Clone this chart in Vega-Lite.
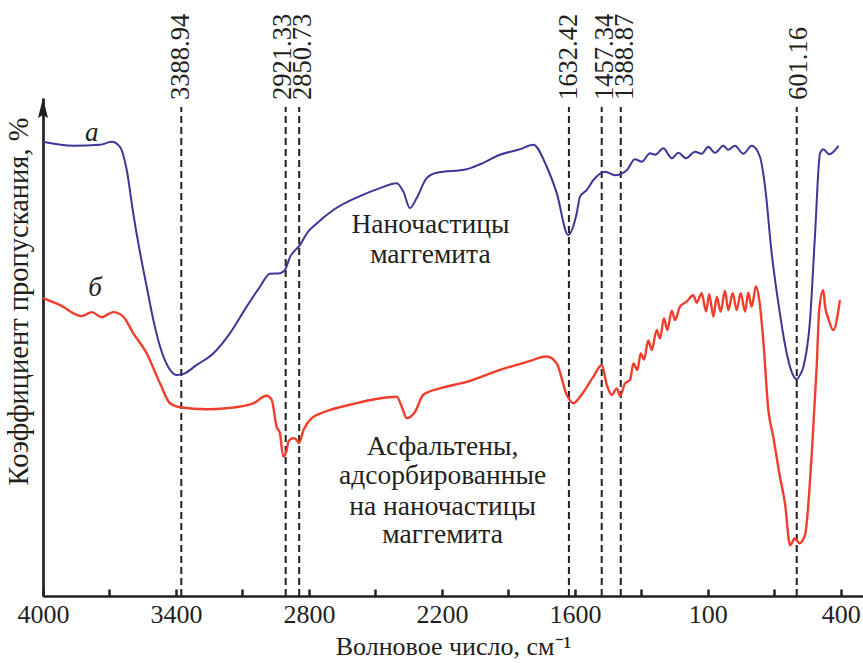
{
  "$schema": "https://vega.github.io/schema/vega-lite/v6.json",
  "width": 820,
  "height": 498,
  "autosize": "none",
  "padding": {"left": 43, "top": 98, "right": 0, "bottom": 67},
  "background": "white",
  "config": {"view": {"stroke": null}, "font": "Liberation Serif"},
  "datasets": {
    "blue": [
      {"wn": 4000, "t": 91.2}, {"wn": 3863, "t": 90.4}, {"wn": 3743, "t": 90.6}, {"wn": 3690, "t": 91.2},
      {"wn": 3653, "t": 90.2}, {"wn": 3622, "t": 85.5}, {"wn": 3593, "t": 76.9}, {"wn": 3562, "t": 68.9},
      {"wn": 3532, "t": 62.1}, {"wn": 3502, "t": 55.4}, {"wn": 3472, "t": 50.1}, {"wn": 3435, "t": 46.0},
      {"wn": 3397, "t": 44.4}, {"wn": 3367, "t": 44.6}, {"wn": 3306, "t": 46.4}, {"wn": 3232, "t": 48.7},
      {"wn": 3156, "t": 52.8}, {"wn": 3081, "t": 58.1}, {"wn": 3021, "t": 62.1}, {"wn": 2976, "t": 64.7},
      {"wn": 2931, "t": 64.8}, {"wn": 2908, "t": 65.5}, {"wn": 2885, "t": 68.1}, {"wn": 2840, "t": 70.5},
      {"wn": 2810, "t": 72.8}, {"wn": 2765, "t": 74.8}, {"wn": 2690, "t": 77.5}, {"wn": 2570, "t": 80.3},
      {"wn": 2479, "t": 81.9}, {"wn": 2404, "t": 82.9}, {"wn": 2374, "t": 81.2}, {"wn": 2344, "t": 77.9},
      {"wn": 2314, "t": 79.9}, {"wn": 2269, "t": 83.9}, {"wn": 2224, "t": 85.0}, {"wn": 2088, "t": 85.7},
      {"wn": 2028, "t": 86.7}, {"wn": 1938, "t": 88.6}, {"wn": 1848, "t": 89.7}, {"wn": 1788, "t": 90.6},
      {"wn": 1727, "t": 86.2}, {"wn": 1682, "t": 80.9}, {"wn": 1630, "t": 72.5}, {"wn": 1592, "t": 76.8},
      {"wn": 1577, "t": 80.2}, {"wn": 1547, "t": 81.5}, {"wn": 1517, "t": 83.5}, {"wn": 1464, "t": 85.2},
      {"wn": 1419, "t": 84.5}, {"wn": 1366, "t": 85.5}, {"wn": 1329, "t": 87.7}, {"wn": 1298, "t": 87.2},
      {"wn": 1261, "t": 88.9}, {"wn": 1238, "t": 88.6}, {"wn": 1201, "t": 89.9}, {"wn": 1163, "t": 87.9},
      {"wn": 1133, "t": 89.0}, {"wn": 1099, "t": 87.9}, {"wn": 1058, "t": 89.2}, {"wn": 1028, "t": 88.8},
      {"wn": 998, "t": 90.2}, {"wn": 968, "t": 89.0}, {"wn": 930, "t": 90.4}, {"wn": 908, "t": 89.6},
      {"wn": 878, "t": 90.4}, {"wn": 840, "t": 88.8}, {"wn": 802, "t": 90.4}, {"wn": 765, "t": 88.2},
      {"wn": 742, "t": 82.2}, {"wn": 712, "t": 68.8}, {"wn": 682, "t": 58.8}, {"wn": 644, "t": 48.7},
      {"wn": 625, "t": 45.4}, {"wn": 599, "t": 43.5}, {"wn": 584, "t": 44.4}, {"wn": 569, "t": 46.0},
      {"wn": 539, "t": 55.4}, {"wn": 517, "t": 72.1}, {"wn": 494, "t": 88.9}, {"wn": 479, "t": 89.7},
      {"wn": 452, "t": 88.7}, {"wn": 411, "t": 90.4}
    ],
    "red": [
      {"wn": 4000, "t": 59.8}, {"wn": 3923, "t": 58.4}, {"wn": 3825, "t": 56.2}, {"wn": 3780, "t": 57.0},
      {"wn": 3735, "t": 56.0}, {"wn": 3683, "t": 57.0}, {"wn": 3638, "t": 56.1}, {"wn": 3593, "t": 52.8},
      {"wn": 3532, "t": 48.7}, {"wn": 3472, "t": 42.7}, {"wn": 3427, "t": 38.7}, {"wn": 3382, "t": 37.9},
      {"wn": 3261, "t": 37.5}, {"wn": 3171, "t": 37.7}, {"wn": 3051, "t": 38.7}, {"wn": 2991, "t": 40.2},
      {"wn": 2968, "t": 39.4}, {"wn": 2946, "t": 34.0}, {"wn": 2931, "t": 32.7}, {"wn": 2916, "t": 28.0},
      {"wn": 2900, "t": 29.3}, {"wn": 2893, "t": 31.0}, {"wn": 2871, "t": 31.7}, {"wn": 2855, "t": 31.3},
      {"wn": 2845, "t": 30.7}, {"wn": 2825, "t": 33.3}, {"wn": 2788, "t": 35.7}, {"wn": 2728, "t": 37.0},
      {"wn": 2615, "t": 38.4}, {"wn": 2404, "t": 40.0}, {"wn": 2381, "t": 38.0}, {"wn": 2359, "t": 35.7},
      {"wn": 2321, "t": 37.0}, {"wn": 2284, "t": 40.4}, {"wn": 2209, "t": 41.7}, {"wn": 2088, "t": 43.0},
      {"wn": 1938, "t": 45.4}, {"wn": 1817, "t": 47.0}, {"wn": 1727, "t": 48.1}, {"wn": 1682, "t": 46.7},
      {"wn": 1637, "t": 40.4}, {"wn": 1607, "t": 38.7}, {"wn": 1577, "t": 40.0}, {"wn": 1517, "t": 44.0},
      {"wn": 1479, "t": 46.4}, {"wn": 1456, "t": 42.4}, {"wn": 1434, "t": 40.4}, {"wn": 1411, "t": 41.7},
      {"wn": 1396, "t": 40.2}, {"wn": 1374, "t": 42.7}, {"wn": 1351, "t": 43.4}, {"wn": 1336, "t": 46.7},
      {"wn": 1318, "t": 45.4}, {"wn": 1303, "t": 48.7}, {"wn": 1288, "t": 47.5}, {"wn": 1269, "t": 51.3},
      {"wn": 1253, "t": 49.4}, {"wn": 1231, "t": 53.4}, {"wn": 1216, "t": 51.7}, {"wn": 1198, "t": 55.8},
      {"wn": 1183, "t": 53.4}, {"wn": 1163, "t": 57.3}, {"wn": 1148, "t": 55.4}, {"wn": 1126, "t": 58.1},
      {"wn": 1096, "t": 59.1}, {"wn": 1066, "t": 60.4}, {"wn": 1050, "t": 58.9}, {"wn": 1028, "t": 60.8},
      {"wn": 1008, "t": 57.1}, {"wn": 994, "t": 60.6}, {"wn": 975, "t": 56.1}, {"wn": 960, "t": 60.1},
      {"wn": 942, "t": 57.1}, {"wn": 923, "t": 61.3}, {"wn": 908, "t": 57.4}, {"wn": 888, "t": 60.8},
      {"wn": 870, "t": 57.4}, {"wn": 852, "t": 60.8}, {"wn": 832, "t": 57.1}, {"wn": 818, "t": 60.9},
      {"wn": 802, "t": 58.1}, {"wn": 783, "t": 62.2}, {"wn": 768, "t": 59.4}, {"wn": 750, "t": 51.4},
      {"wn": 727, "t": 37.3}, {"wn": 705, "t": 32.0}, {"wn": 675, "t": 24.0}, {"wn": 652, "t": 18.6},
      {"wn": 629, "t": 10.2}, {"wn": 607, "t": 11.6}, {"wn": 587, "t": 10.6}, {"wn": 562, "t": 12.2},
      {"wn": 531, "t": 28.7}, {"wn": 509, "t": 46.0}, {"wn": 497, "t": 57.8}, {"wn": 479, "t": 61.4},
      {"wn": 471, "t": 58.1}, {"wn": 457, "t": 55.8}, {"wn": 434, "t": 53.4}, {"wn": 404, "t": 59.4}
    ],
    "peaks": [
      {"wn": 3376, "t": 0, "t2": 98.2}, {"wn": 2905, "t": 0, "t2": 98.2}, {"wn": 2844, "t": 0, "t2": 98.2},
      {"wn": 1627, "t": 0, "t2": 98.2}, {"wn": 1479, "t": 0, "t2": 98.2}, {"wn": 1393, "t": 0, "t2": 98.2},
      {"wn": 599, "t": 0, "t2": 98.2}
    ],
    "peaklabels": [
      {"wn": 3379, "t": 99.6, "lbl": "3388.94"}, {"wn": 2919, "t": 99.6, "lbl": "2921.33"},
      {"wn": 2829, "t": 99.6, "lbl": "2850.73"}, {"wn": 1627, "t": 99.6, "lbl": "1632.42"},
      {"wn": 1464, "t": 99.6, "lbl": "1457.34"}, {"wn": 1372, "t": 99.6, "lbl": "1388.87"},
      {"wn": 589, "t": 99.6, "lbl": "601.16"}
    ],
    "notes": [
      {"wn": 2252, "t": 74.5, "txt": "Наночастицы", "it": false},
      {"wn": 2252, "t": 68.5, "txt": "маггемита", "it": false},
      {"wn": 2197, "t": 30.0, "txt": "Асфальтены,", "it": false},
      {"wn": 2197, "t": 24.0, "txt": "адсорбированные", "it": false},
      {"wn": 2197, "t": 17.9, "txt": "на наночастицы", "it": false},
      {"wn": 2197, "t": 12.2, "txt": "маггемита", "it": false},
      {"wn": 3780, "t": 93.0, "txt": "а", "it": true},
      {"wn": 3765, "t": 61.8, "txt": "б", "it": true}
    ],
    "arrow": [{"wn": 4000, "t": 98.0}]
  },
  "encoding": {
    "x": {
      "field": "wn", "type": "quantitative",
      "scale": {"domain": [4000, 300], "nice": false, "zero": false},
      "axis": {
        "values": [4000, 3700, 3400, 3100, 2800, 2500, 2200, 1900, 1600, 1300, 1000, 700, 400],
        "labelExpr": "datum.value == 1000 ? '100' : (datum.value % 600 == 400 ? '' + datum.value : '')",
        "title": "Волновое число, см⁻¹",
        "grid": false,
        "domainColor": "#231f20", "domainWidth": 2.7,
        "tickColor": "#231f20", "tickWidth": 2.5, "tickSize": -7,
        "labelFont": "Liberation Serif", "labelFontSize": 26, "labelColor": "#231f20",
        "labelPadding": 12, "labelFlush": false, "labelOverlap": false,
        "titleFont": "Liberation Serif", "titleFontSize": 26, "titleFontWeight": "normal",
        "titleColor": "#231f20", "titlePadding": 6
      }
    },
    "y": {
      "field": "t", "type": "quantitative",
      "scale": {"domain": [0, 100], "nice": false, "zero": false},
      "axis": {
        "title": "Коэффициент пропускания, %",
        "labels": false, "ticks": false, "grid": false,
        "domainColor": "#231f20", "domainWidth": 2.7,
        "titleFont": "Liberation Serif", "titleFontSize": 28.5, "titleFontWeight": "normal",
        "titleColor": "#231f20", "titleX": -25, "titleY": 203, "titleBaseline": "middle", "titleAlign": "center"
      }
    }
  },
  "layer": [
    {
      "data": {"name": "peaks"},
      "mark": {"type": "rule", "color": "#231f20", "strokeWidth": 2, "strokeDash": [7, 4]},
      "encoding": {"y2": {"field": "t2"}}
    },
    {
      "data": {"name": "blue"},
      "mark": {"type": "line", "color": "#3a3796", "strokeWidth": 2, "interpolate": "monotone"}
    },
    {
      "data": {"name": "red"},
      "mark": {"type": "line", "color": "#f03e2c", "strokeWidth": 2.4, "interpolate": "monotone"}
    },
    {
      "data": {"name": "peaklabels"},
      "mark": {"type": "text", "angle": 270, "align": "left", "baseline": "middle", "font": "Liberation Serif", "fontSize": 26.5, "color": "#231f20"},
      "encoding": {"text": {"field": "lbl"}}
    },
    {
      "data": {"name": "notes"},
      "transform": [{"filter": "!datum.it"}],
      "mark": {"type": "text", "align": "center", "baseline": "middle", "font": "Liberation Serif", "fontSize": 27.5, "color": "#231f20"},
      "encoding": {"text": {"field": "txt"}}
    },
    {
      "data": {"name": "notes"},
      "transform": [{"filter": "datum.it"}],
      "mark": {"type": "text", "align": "center", "baseline": "middle", "font": "Liberation Serif", "fontSize": 27, "fontStyle": "italic", "color": "#231f20"},
      "encoding": {"text": {"field": "txt"}}
    },
    {
      "data": {"name": "arrow"},
      "mark": {"type": "point", "shape": "M0,-1L0.5,1L0,0.7L-0.5,1Z", "size": 400, "filled": true, "color": "#231f20", "opacity": 1, "strokeWidth": 0}
    }
  ]
}
